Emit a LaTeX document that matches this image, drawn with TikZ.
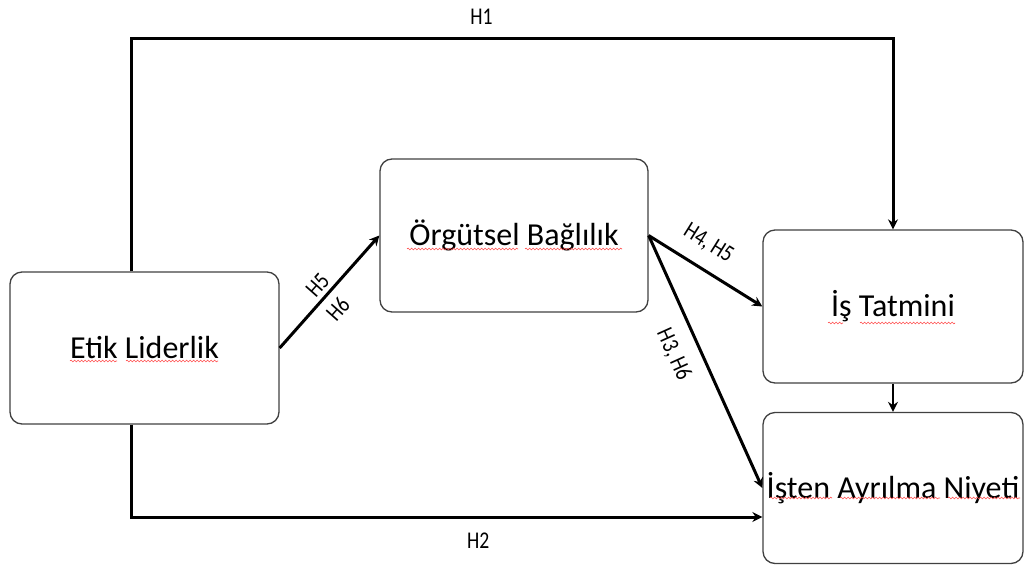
\documentclass[tikz,border=0pt]{standalone}
\usepackage{fontspec}
\setmainfont{Carlito}
\newfontfamily\labfont[FakeStretch=0.82]{Carlito}
\usetikzlibrary{arrows.meta,decorations.pathmorphing}

\begin{document}
\begin{tikzpicture} [x=1pt, y=-1pt, ->, >={Stealth[length=10pt,width=10pt]}, line width=3pt,
  box/.style={draw=black!75, line width=1.3pt, rounded corners=12pt, minimum height=152pt, inner sep=0pt, font=\fontsize{32}{38}\selectfont},
  lab/.style={font=\labfont\fontsize{24}{28}\selectfont, inner sep=2pt},
  spell/.style={-, draw=red!70, line width=0.6pt, decorate, decoration={snake, amplitude=0.9pt, segment length=3.5pt}}]

\useasboundingbox (0,0) rectangle (1025,565);

\node at (144.5,348) [box, minimum width=269pt] (etik) {Etik Liderlik};
\node at (514,235.5) [box, minimum width=268pt, minimum height=153pt] (orgut) {Örgütsel Bağlılık};
\node at (893,306.5) [box, minimum width=260pt, minimum height=153pt] (tatmin) {İş Tatmini};
\node at (893,488) [box, minimum width=260pt, minimum height=151pt] (niyet) {İşten Ayrılma Niyeti};

\coordinate (h1l) at (131,38);
\coordinate (h1r) at (893,38);
\coordinate (h2l) at (131,517);

\draw (etik.north -| h1l) -- (h1l) -- node [lab, pos=0.46, above=10pt] {H1} (h1r) -- (tatmin.north);
\draw (etik.south -| h2l) -- (h2l) -- node [lab, pos=0.55, below=12pt] {H2} (h2l -| niyet.west);

\path (etik.east) edge node [lab, sloped, above=2pt, pos=0.48] {H5} node [lab, sloped, below=6pt, pos=0.45] {H6} (orgut.west);
\path (orgut.east) edge node [lab, sloped, above=12pt, pos=0.41] {H4, H5} (tatmin.west);
\path (orgut.east) edge node [lab, sloped, below=13pt, pos=0.43] {H3, H6} (niyet.west);
\draw [line width=2pt] (tatmin.south) -- (niyet.north);

% spelling marks
\draw [spell] (70,361) -- (117,361);
\draw [spell] (126,361) -- (218,361);
\draw [spell] (407,249) -- (518,249);
\draw [spell] (525,249) -- (622,249);
\draw [spell] (828,323) -- (843,323);
\draw [spell] (860,323) -- (955,323);
\draw [spell] (770,498) -- (832,498);
\draw [spell] (840,498) -- (940,498);
\draw [spell] (948,498) -- (1020,498);

\end{tikzpicture}
\end{document}
